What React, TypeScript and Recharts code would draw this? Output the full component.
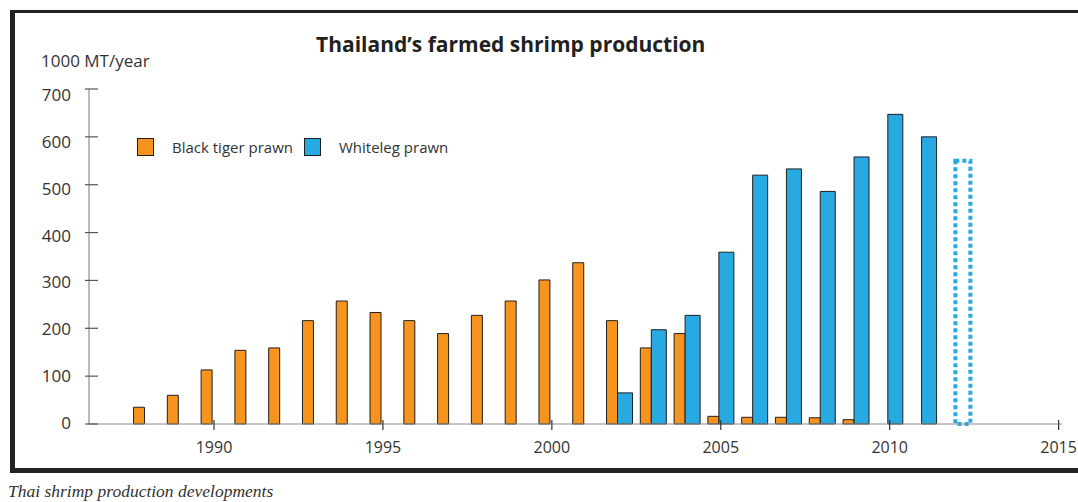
import React from "react";
import { BarChart, Bar, XAxis, YAxis, Legend, Cell } from "recharts";

// production in 1000 metric tons per year
const years = [
  1988, 1989, 1990, 1991, 1992, 1993, 1994, 1995, 1996, 1997, 1998, 1999,
  2000, 2001, 2002, 2003, 2004, 2005, 2006, 2007, 2008, 2009, 2010, 2011,
  2012,
];
const blackTiger = [
  35, 60, 113, 154, 159, 216, 257, 233, 216, 189, 227, 257, 301, 337, 216,
  159, 189, 16, 14, 14, 13, 9, null, null, null,
];
const whiteleg = [
  null, null, null, null, null, null, null, null, null, null, null, null,
  null, null, 65, 197, 227, 359, 520, 533, 486, 558, 647, 600, 550,
];
const forecastYears = [2012];

const yTicks = [0, 100, 200, 300, 400, 500, 600, 700];
const xTicks = [1990, 1995, 2000, 2005, 2010, 2015];

const ORANGE = "#f7941d";
const BLUE = "#27a9e1";
const OUTLINE = "#231f20";
const FONT = '"Open Sans", sans-serif';

const data = years.map((year, i) => ({
  year,
  blackTiger: blackTiger[i],
  whiteleg: whiteleg[i],
  forecast: forecastYears.includes(year),
}));

const YTick = (props: any) => {
  const { x, y, payload } = props;
  // labels drift slightly below their tick towards the top of the axis
  return (
    <g>
      <line x1={x + 14} x2={x + 27} y1={y} y2={y} stroke="#555" strokeWidth={1.2} />
      <text
        x={x}
        y={y}
        dy={5 + payload.value / 100}
        textAnchor="end"
        fontSize={17}
        fill="#333"
        fontFamily={FONT}
      >
        {payload.value}
      </text>
    </g>
  );
};

const XTick = (props: any) => {
  const { x, y, payload } = props;
  return (
    <g>
      <line x1={x} x2={x} y1={y - 12} y2={y - 2} stroke="#333" strokeWidth={1.2} />
      <text x={x} y={y} dy={21} textAnchor="middle" fontSize={16} fill="#333" fontFamily={FONT}>
        {payload.value}
      </text>
    </g>
  );
};

const renderLegend = (props: any) => (
  <div style={{ display: "flex", alignItems: "center", fontFamily: FONT, fontSize: 15, color: "#333" }}>
    {(props.payload || []).map((item: any) => (
      <span key={item.value} style={{ display: "flex", alignItems: "center", marginRight: 11 }}>
        <span
          style={{
            width: 15,
            height: 16,
            background: item.color,
            border: `1px solid ${OUTLINE}`,
            marginRight: 18,
          }}
        />
        {item.value}
      </span>
    ))}
  </div>
);

export default function App() {
  return (
    <div style={{ position: "absolute", left: 0, top: 0, width: 1078, height: 502, background: "#fff", overflow: "hidden" }}>
      <div
        style={{
          position: "absolute",
          left: 10,
          top: 10,
          width: 1100,
          height: 463,
          boxSizing: "border-box",
          borderTop: "3px solid #222",
          borderLeft: "5px solid #222",
          borderBottom: "5px solid #222",
        }}
      />
      <div
        style={{
          position: "absolute",
          left: 316,
          top: 34,
          fontFamily: FONT,
          fontWeight: 700,
          fontSize: 21,
          lineHeight: "21px",
          color: OUTLINE,
          whiteSpace: "nowrap",
        }}
      >
        Thailand’s farmed shrimp production
      </div>
      <div
        style={{
          position: "absolute",
          left: 41,
          top: 52,
          fontFamily: FONT,
          fontSize: 17,
          lineHeight: "17px",
          color: "#333",
          whiteSpace: "nowrap",
        }}
      >
        1000 MT/year
      </div>
      <div
        style={{
          position: "absolute",
          left: 8,
          top: 483,
          fontFamily: '"Liberation Serif", serif',
          fontStyle: "italic",
          fontSize: 17.5,
          lineHeight: "17.5px",
          color: "#333",
          whiteSpace: "nowrap",
        }}
      >
        Thai shrimp production developments
      </div>
      <div style={{ position: "absolute", left: 0, top: 0 }}>
        <BarChart
          width={1078}
          height={502}
          data={data}
          margin={{ top: 89, right: 16, bottom: 48, left: 29 }}
          barGap={0}
        >
          <XAxis
            dataKey="year"
            type="number"
            domain={[1986.3, 2015.1]}
            ticks={xTicks}
            interval={0}
            height={30}
            tickSize={6}
            tickMargin={2}
            tickLine={false}
            axisLine={{ stroke: "#8c8c8c", strokeWidth: 1.2 }}
            tick={(p: any) => <XTick {...p} />}
          />
          <YAxis
            domain={[0, 700]}
            ticks={yTicks}
            interval={0}
            width={60}
            tickSize={4}
            tickMargin={14}
            tickLine={false}
            axisLine={{ stroke: "#8c8c8c", strokeWidth: 1.2 }}
            tick={(p: any) => <YTick {...p} />}
          />
          <Legend
            layout="horizontal"
            verticalAlign="middle"
            align="center"
            content={renderLegend}
            wrapperStyle={{ top: 137, left: 137, width: "auto" }}
          />
          <Bar
            dataKey="blackTiger"
            name="Black tiger prawn"
            fill={ORANGE}
            stroke={OUTLINE}
            strokeWidth={1}
            barSize={11}
            isAnimationActive={false}
          />
          <Bar
            dataKey="whiteleg"
            name="Whiteleg prawn"
            fill={BLUE}
            stroke={OUTLINE}
            strokeWidth={1}
            barSize={15}
            isAnimationActive={false}
          >
            {data.map((d) =>
              d.forecast ? (
                <Cell
                  key={d.year}
                  fill="none"
                  stroke={BLUE}
                  strokeWidth={4}
                  strokeDasharray="4 3"
                />
              ) : (
                <Cell key={d.year} fill={BLUE} stroke={OUTLINE} />
              )
            )}
          </Bar>
        </BarChart>
      </div>
    </div>
  );
}
